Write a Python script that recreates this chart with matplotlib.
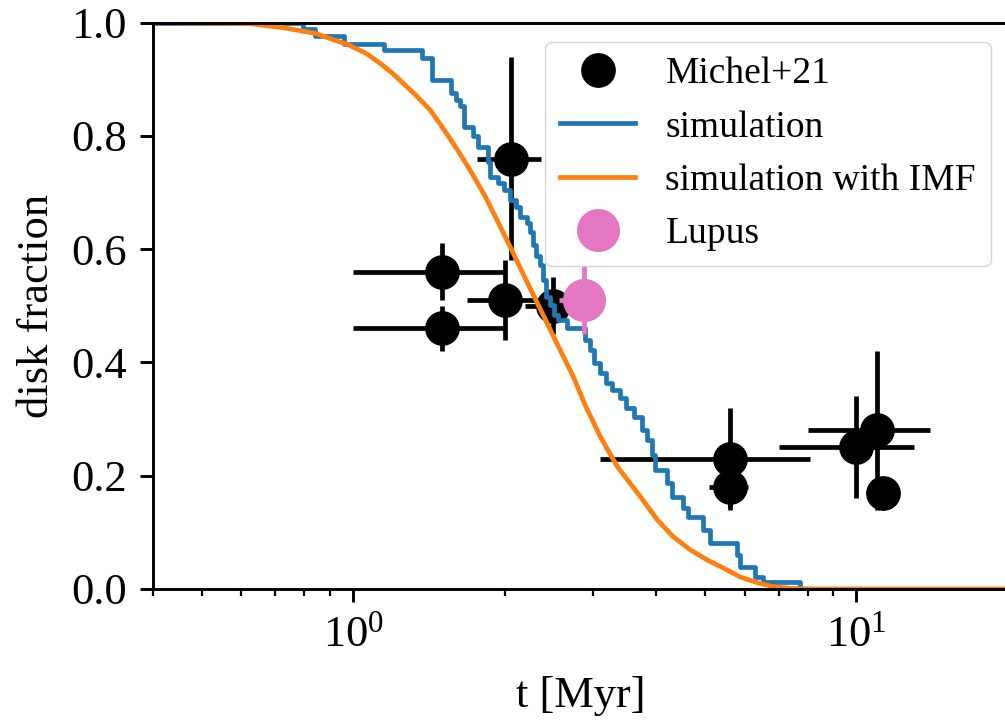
import numpy as np
import matplotlib
matplotlib.use("Agg")
import matplotlib.pyplot as plt

plt.rcParams['font.family'] = ['Liberation Serif', 'DejaVu Serif']
plt.rcParams['mathtext.fontset'] = 'stix'
plt.rcParams['font.size'] = 32

# Michel+21 disk fractions
obs_t = [2.06, 1.5, 1.5, 2.0, 2.5, 5.6, 5.6, 10.0, 11.0, 11.3]
obs_terr = [0.3, 0.5, 0.5, 0.32, 0.3, 2.5, 0.5, 3.0, 3.0, 0.0]
obs_f = [0.76, 0.56, 0.46, 0.51, 0.50, 0.23, 0.18, 0.25, 0.28, 0.17]
obs_ferr = [0.18, 0.05, 0.04, 0.07, 0.05, 0.09, 0.035, 0.09, 0.14, 0.0]

# Lupus
lupus_t = [2.87]
lupus_terr = [0.3]
lupus_f = [0.51]
lupus_ferr = [0.06]

# simulated disk fraction (step curve)
sim_t = [0.4, 0.796, 0.840, 0.960, 1.152, 1.371, 1.436, 1.566, 1.602, 1.632,
         1.663, 1.732, 1.772, 1.855, 1.872, 1.942, 1.996, 2.052, 2.109, 2.148,
         2.218, 2.248, 2.279, 2.311, 2.353, 2.386, 2.419, 2.464, 2.509, 2.556,
         2.664, 2.892, 2.959, 3.014, 3.098, 3.184, 3.273, 3.395, 3.490, 3.620,
         3.754, 3.841, 3.930, 3.985, 4.209, 4.307, 4.530, 4.635, 4.965, 5.127,
         5.800, 5.880, 6.300, 6.535, 7.740, 20.0]
sim_f = [1.0, 0.989, 0.977, 0.963, 0.951, 0.938, 0.898, 0.876, 0.864, 0.852,
         0.816, 0.799, 0.781, 0.753, 0.728, 0.717, 0.705, 0.687, 0.675, 0.657,
         0.647, 0.631, 0.608, 0.587, 0.572, 0.546, 0.516, 0.502, 0.484, 0.475,
         0.461, 0.440, 0.422, 0.399, 0.382, 0.364, 0.352, 0.337, 0.320, 0.304,
         0.281, 0.263, 0.237, 0.210, 0.187, 0.163, 0.143, 0.127, 0.104, 0.081,
         0.060, 0.039, 0.021, 0.012, 0.0, 0.0]

# simulated disk fraction with IMF
imf_t = [0.4, 0.624, 0.726, 0.840, 0.977, 1.060, 1.132, 1.195, 1.257, 1.335,
         1.422, 1.510, 1.610, 1.720, 1.830, 1.940, 2.052, 2.180, 2.322, 2.520,
         2.737, 2.900, 3.098, 3.349, 3.721, 4.022, 4.327, 4.677, 5.056,
         5.440, 5.880, 6.357, 6.839, 7.393, 8.101, 20.0]
imf_f = [1.0, 0.998, 0.991, 0.981, 0.961, 0.946, 0.928, 0.911, 0.893, 0.871,
         0.846, 0.813, 0.776, 0.735, 0.693, 0.648, 0.604, 0.555, 0.505, 0.440,
         0.375, 0.322, 0.269, 0.216, 0.163, 0.122, 0.092, 0.069, 0.051,
         0.037, 0.021, 0.011, 0.004, 0.001, 0.0, 0.0]

fig = plt.figure(figsize=(10.05, 7.28), dpi=100)
ax = fig.add_axes([0.152, 0.191, 0.851, 0.778])

ax.errorbar(obs_t, obs_f, xerr=obs_terr, yerr=obs_ferr, fmt='none',
            ecolor='k', elinewidth=3.4)
ax.plot(obs_t, obs_f, 'o', color='k', ms=24, label='Michel+21')
ax.step(sim_t, sim_f, where='post', color='tab:blue', lw=3.4, label='simulation')
ax.plot(imf_t, imf_f, color='tab:orange', lw=3.4, label='simulation with IMF')
ax.errorbar(lupus_t, lupus_f, xerr=lupus_terr, yerr=lupus_ferr, fmt='none',
            ecolor='tab:pink', elinewidth=3.4)
ax.plot(lupus_t, lupus_f, 'o', color='tab:pink', ms=30, label='Lupus')

ax.set_xscale('log')
ax.set_xlim(0.4, 20)
ax.set_ylim(0, 1)
ax.set_xlabel('t [Myr]', labelpad=15)
ax.set_ylabel('disk fraction', labelpad=10)
ax.tick_params(which='major', length=9.4, width=2.1, pad=9.4)
ax.tick_params(which='minor', length=5.3, width=1.6)
for s in ax.spines.values():
    s.set_linewidth(2.1)

ax.legend(loc='upper right', bbox_to_anchor=(0.980, 0.966), borderaxespad=0,
          fontsize=27, labelspacing=0.5, handlelength=2.0)

fig.savefig('out.png', dpi=100)
